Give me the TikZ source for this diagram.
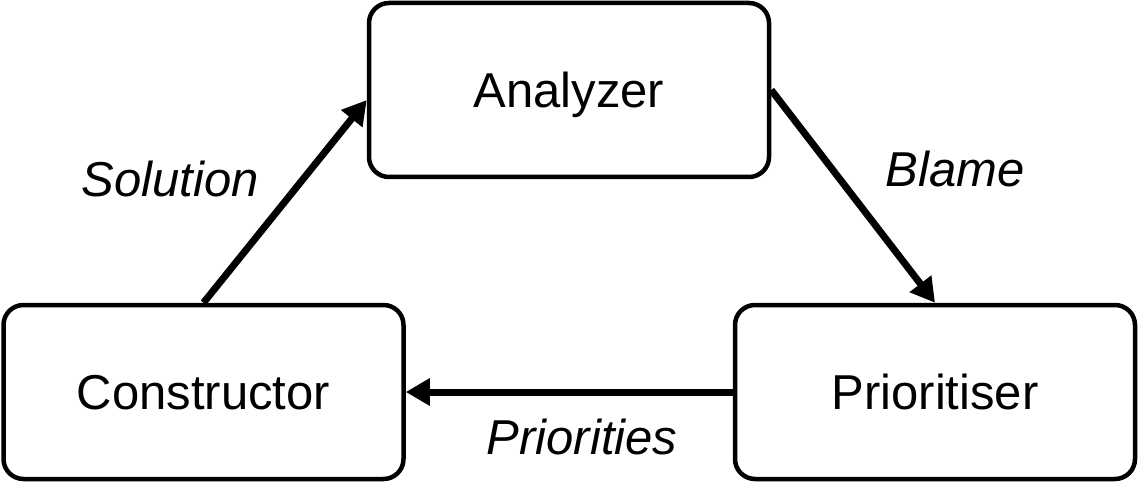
\documentclass[tikz,border=0pt]{standalone}
\usepackage{fontspec}
\setmainfont{Liberation Sans}
\usetikzlibrary{arrows.meta}

\begin{document}
\begin{tikzpicture}[x=0.5pt,y=-0.5pt,line width=3.5pt,
>={Triangle[length=12pt,width=13pt]},
stagebox/.style={draw,rectangle,rounded corners=10pt,inner sep=0pt,minimum width=200pt,minimum height=87pt,line width=2.25pt,text height=17.6pt,text depth=0pt,font=\fontsize{24.5}{29}\selectfont},
flowlabel/.style={inner sep=0pt,text height=17.6pt,text depth=0pt,font=\fontsize{24.5}{29}\selectfont\itshape}]

\useasboundingbox (0,0) rectangle (1138,497);

\draw (569,90) node[stagebox] (ana) {Analyzer};
\draw (203.5,392) node[stagebox] (con) {Constructor};
\draw (935,392) node[stagebox] (pri) {Prioritiser};

\draw[->] (con.north) -- ([yshift=-5pt]ana.west);
\draw[->] (ana.east) -- (pri.north);
\draw[->] (pri.west) -- (con.east);

\draw (170,179) node[flowlabel] (sol) {Solution};
\draw (955,169) node[flowlabel] (bla) {Blame};
\draw (582,437) node[flowlabel] (prio) {Priorities};
\end{tikzpicture}
\end{document}
